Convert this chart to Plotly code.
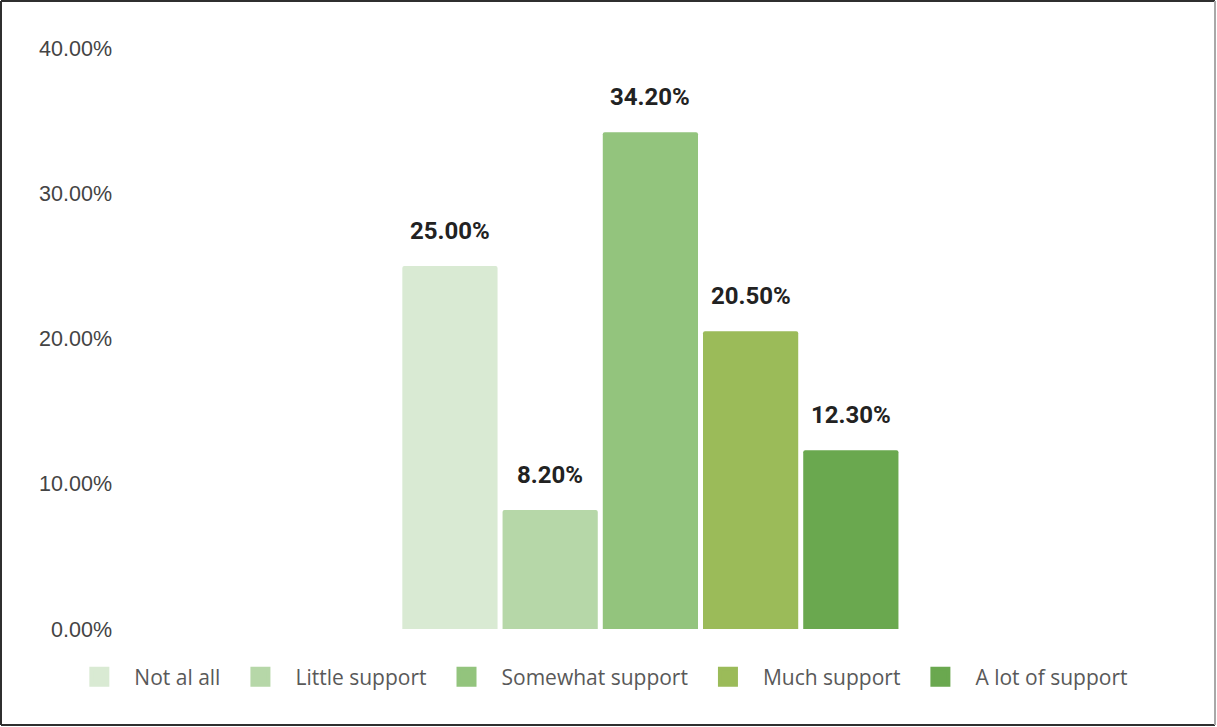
import plotly.graph_objects as go

# Survey responses: level of support
categories = ["Not al all", "Little support", "Somewhat support", "Much support", "A lot of support"]
values = [25.0, 8.2, 34.2, 20.5, 12.3]
colors = ["#d9ead3", "#b6d7a8", "#93c47d", "#9bbb59", "#6aa84f"]
y_ticks = [0, 10, 20, 30, 40]
y_tick_labels = ["0.00%", "10.00%", "20.00%", "30.00%", "40.00%"]

W, H = 1217, 727
ML, MR, MT, MB = 125, 37, 48, 98
PW, PH = W - ML - MR, H - MT - MB
BARGAP, GROUPGAP = 0.525, 0.05

fig = go.Figure()

for name, val, col in zip(categories, values, colors):
    fig.add_trace(go.Bar(
        x=[0], y=[val], name=name,
        marker=dict(color=col, cornerradius=2, line=dict(width=0)),
        showlegend=False,
    ))

# Value labels above each bar (bar slot width follows from bargap / count)
slot = (1 - BARGAP) / len(values)
annotations = [
    dict(x=(i - (len(values) - 1) / 2) * slot, y=val, xref="x", yref="y",
         text=f"<b>{val:.2f}%</b>", showarrow=False, yshift=35,
         xanchor="center", yanchor="middle",
         font=dict(family="Roboto", size=24, color="#222222"))
    for i, val in enumerate(values)
]

# Legend entries with larger square swatches
for name, col in zip(categories, colors):
    fig.add_trace(go.Scatter(
        x=[None], y=[None], mode="markers", name=name,
        marker=dict(symbol="square", size=16, color=col,
                    line=dict(color=col, width=4)),
        showlegend=True,
    ))


def px_x(p):
    return (p - ML) / PW


def px_y(p):
    return (H - MB - p) / PH


border = [
    (1, 1, W - 2, 1, "#2f2f2f"),
    (1, 1, 1, H - 2, "#2f2f2f"),
    (1, H - 2, W - 2, H - 2, "#2f2f2f"),
    (W - 2, 1, W - 2, H - 2, "#a8a8a8"),
]
shapes = [
    dict(type="line", xref="paper", yref="paper",
         x0=px_x(a), y0=px_y(b), x1=px_x(c), y1=px_y(d),
         line=dict(color=clr, width=2))
    for a, b, c, d, clr in border
]

fig.update_layout(
    width=W, height=H,
    margin=dict(l=ML, r=MR, t=MT, b=MB),
    paper_bgcolor="white", plot_bgcolor="white",
    barmode="group", bargap=BARGAP, bargroupgap=GROUPGAP,
    xaxis=dict(type="linear", showticklabels=False, showgrid=False, zeroline=False,
               showline=False, range=[-0.498, 0.502]),
    yaxis=dict(range=[0, 40], tickvals=y_ticks, ticktext=y_tick_labels,
               showgrid=False, zeroline=False, showline=False,
               ticklabelstandoff=12,
               tickfont=dict(family="Liberation Sans", size=21.5, color="#444444")),
    legend=dict(orientation="h", x=-0.0575, xanchor="left", y=-0.083, yanchor="middle",
                font=dict(family="Open Sans", size=21, color="#595959"),
                itemwidth=60, tracegroupgap=0),
    annotations=annotations,
    shapes=shapes,
)

fig.write_html("out.html")
